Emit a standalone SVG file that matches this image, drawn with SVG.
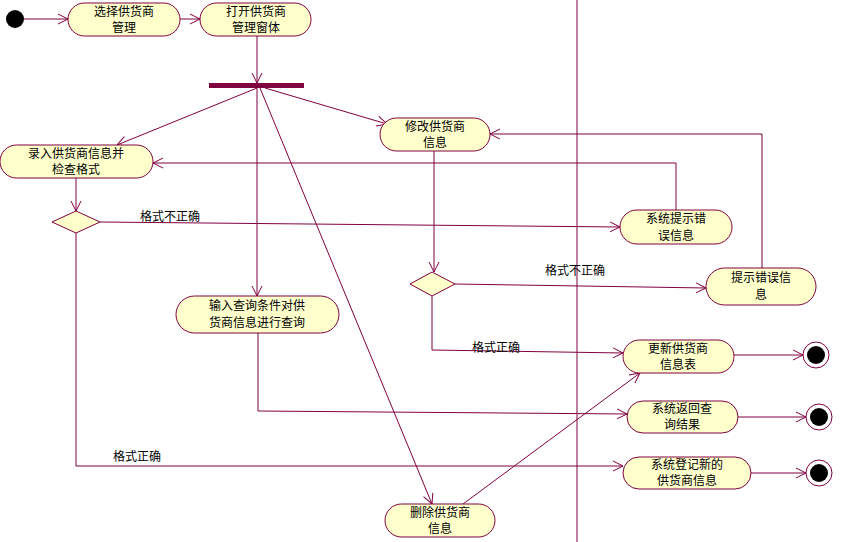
<svg xmlns="http://www.w3.org/2000/svg" width="853" height="542" viewBox="0 0 853 542">
<style>
.n{fill:#ffffcc;stroke:#800040;stroke-width:1}
.t{font-family:"Noto Sans CJK SC",sans-serif;font-size:12px;fill:#000;text-anchor:middle}
.l{font-family:"Noto Sans CJK SC",sans-serif;font-size:12px;fill:#000}
.c{fill:none;stroke:#800040;stroke-width:1;marker-end:url(#a)}
</style>
<defs><marker id="a" markerWidth="12" markerHeight="12" refX="11" refY="6" orient="auto" markerUnits="userSpaceOnUse"><path d="M1,1 L11,6 L1,11" fill="none" stroke="#800040"/></marker></defs>
<rect width="853" height="542" fill="#fff"/>
<line x1="577" y1="0" x2="577" y2="542" stroke="#800040"/>
<g id="connectors">
<line class="c" x1="24" y1="19" x2="68" y2="19"/>
<line class="c" x1="180" y1="19" x2="200" y2="19"/>
<line class="c" x1="257" y1="36" x2="257" y2="83"/>
<line class="c" x1="257" y1="88" x2="117" y2="145"/>
<line class="c" x1="265" y1="88" x2="387" y2="124"/>
<line class="c" x1="257" y1="88" x2="257" y2="296"/>
<line class="c" x1="260" y1="88" x2="432" y2="504"/>
<line class="c" x1="76" y1="178" x2="76" y2="211"/>
<line class="c" x1="100" y1="222" x2="620" y2="227"/>
<polyline class="c" points="76,233 76,466 623,466"/>
<polyline class="c" points="676,210 676,163 153,163"/>
<line class="c" x1="434" y1="151" x2="434" y2="272"/>
<line class="c" x1="455" y1="284" x2="706" y2="288"/>
<polyline class="c" points="432,296 432,350 623,353"/>
<polyline class="c" points="762,268 762,134 490,134"/>
<polyline class="c" points="258,333 258,411 627,414"/>
<line class="c" x1="463" y1="504" x2="640" y2="373"/>
<line class="c" x1="734" y1="355" x2="803" y2="355"/>
<line class="c" x1="738" y1="417" x2="806" y2="417"/>
<line class="c" x1="751" y1="473" x2="806" y2="473"/>
<text class="l" x="140" y="221">格式不正确</text>
<text class="l" x="113" y="461">格式正确</text>
<text class="l" x="545" y="275">格式不正确</text>
<text class="l" x="472" y="352">格式正确</text>
</g>
<g id="start"><circle cx="15" cy="19" r="9" fill="#000"/></g>
<g id="n1"><rect class="n" x="68" y="3" width="112" height="33" rx="16.5"/><text class="t" x="124" y="16">选择供货商</text><text class="t" x="124" y="32">管理</text></g>
<g id="n2"><rect class="n" x="200" y="3" width="111" height="33" rx="16.5"/><text class="t" x="256" y="16">打开供货商</text><text class="t" x="256" y="32">管理窗体</text></g>
<g id="fork"><rect x="209" y="83" width="95" height="5" fill="#800040"/></g>
<g id="n3"><rect class="n" x="0" y="145" width="153" height="33" rx="16.5"/><text class="t" x="76" y="158">录入供货商信息并</text><text class="t" x="76" y="174">检查格式</text></g>
<g id="n4"><rect class="n" x="380" y="118" width="110" height="33" rx="16.5"/><text class="t" x="435" y="131">修改供货商</text><text class="t" x="435" y="147">信息</text></g>
<g id="d1"><polygon class="n" points="52,222 76,211 100,222 76,233"/></g>
<g id="n5"><rect class="n" x="620" y="210" width="112" height="34" rx="17"/><text class="t" x="676" y="223">系统提示错</text><text class="t" x="676" y="240">误信息</text></g>
<g id="d2"><polygon class="n" points="410,284 432,272 455,284 432,296"/></g>
<g id="n6"><rect class="n" x="706" y="268" width="110" height="37" rx="18.5"/><text class="t" x="761" y="282">提示错误信</text><text class="t" x="761" y="299">息</text></g>
<g id="n7"><rect class="n" x="176" y="296" width="163" height="37" rx="18.5"/><text class="t" x="257" y="310">输入查询条件对供</text><text class="t" x="257" y="327">货商信息进行查询</text></g>
<g id="n8"><rect class="n" x="623" y="340" width="111" height="33" rx="16.5"/><text class="t" x="678" y="353">更新供货商</text><text class="t" x="678" y="369">信息表</text></g>
<g id="n9"><rect class="n" x="627" y="401" width="111" height="32" rx="16"/><text class="t" x="682" y="413">系统返回查</text><text class="t" x="682" y="429">询结果</text></g>
<g id="n10"><rect class="n" x="623" y="457" width="128" height="32" rx="16"/><text class="t" x="687" y="469">系统登记新的</text><text class="t" x="687" y="485">供货商信息</text></g>
<g id="n11"><rect class="n" x="385" y="504" width="110" height="33" rx="16.5"/><text class="t" x="440" y="517">删除供货商</text><text class="t" x="440" y="533">信息</text></g>
<g id="end1"><circle cx="816" cy="355" r="13" fill="#fff" stroke="#800040"/><circle cx="816" cy="355" r="9" fill="#000"/></g>
<g id="end2"><circle cx="819" cy="417" r="13" fill="#fff" stroke="#800040"/><circle cx="819" cy="417" r="9" fill="#000"/></g>
<g id="end3"><circle cx="819" cy="473" r="13" fill="#fff" stroke="#800040"/><circle cx="819" cy="473" r="9" fill="#000"/></g>
</svg>
